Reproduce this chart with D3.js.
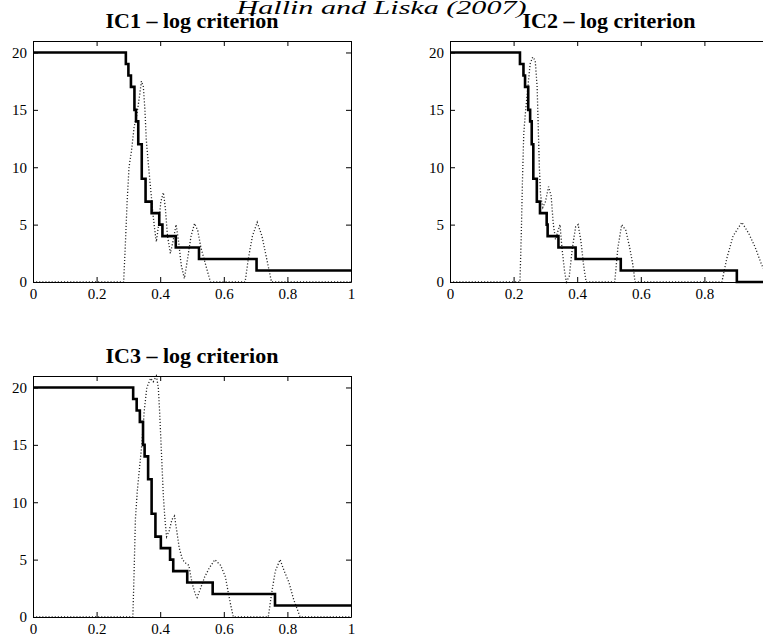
<!DOCTYPE html>
<html>
<head>
<meta charset="utf-8">
<script src="https://cdn.jsdelivr.net/npm/d3@7"></script>
<style>
  body { margin: 0; background: #fff; }
  svg { display: block; }
</style>
</head>
<body>
<div id="chart"></div>
<script>
// Tick values shared by all panels
const xTicks = [0, 0.2, 0.4, 0.6, 0.8, 1];
const yTicks = [0, 5, 10, 15, 20];

const mainTitle = "Hallin and Liska (2007)";
const panelTitles = ["IC1 \u2013 log criterion", "IC2 \u2013 log criterion", "IC3 \u2013 log criterion"];

// Selected number of factors (solid step line), [c, k]
const ic1Steps = [[0, 20], [0.292, 19], [0.300, 18], [0.308, 17], [0.319, 15], [0.324, 14], [0.331, 12],
  [0.342, 9], [0.354, 7], [0.373, 6], [0.397, 5], [0.407, 4], [0.449, 3], [0.522, 2], [0.703, 1], [1, 1]];
const ic2Steps = [[0, 20], [0.220, 19], [0.231, 18], [0.236, 17], [0.246, 15], [0.252, 14], [0.257, 12],
  [0.262, 9], [0.273, 7], [0.283, 6], [0.304, 5], [0.307, 4], [0.341, 3], [0.395, 2], [0.537, 1], [0.902, 0], [1, 0]];
const ic3Steps = [[0, 20], [0.315, 19], [0.326, 18], [0.336, 17], [0.346, 15], [0.351, 14], [0.362, 12],
  [0.373, 9], [0.385, 7], [0.402, 6], [0.431, 5], [0.441, 4], [0.485, 3], [0.565, 2], [0.761, 1], [1, 1]];

// Variability curve (dotted line), [c, S]
const ic1Dots = [[0, 0], [0.285, 0], [0.29, 3], [0.296, 7], [0.302, 10], [0.31, 11.5], [0.318, 13.5], [0.326, 14.5],
  [0.334, 16], [0.341, 17.5], [0.347, 17], [0.352, 15], [0.356, 12.5], [0.362, 10.5], [0.367, 9], [0.372, 7.5],
  [0.377, 6], [0.383, 4.5], [0.388, 3.5], [0.395, 5], [0.402, 7], [0.41, 7.8], [0.416, 6.5], [0.423, 4],
  [0.432, 2.5], [0.44, 3.5], [0.45, 5], [0.458, 3.5], [0.466, 1.5], [0.476, 0.3], [0.486, 2], [0.497, 4],
  [0.508, 5.1], [0.518, 4.5], [0.528, 3], [0.543, 1.5], [0.558, 0], [0.667, 0], [0.677, 2], [0.69, 4],
  [0.705, 5.2], [0.72, 4], [0.735, 2], [0.75, 0], [1, 0]];
const ic2Dots = [[0, 0], [0.22, 0], [0.224, 4], [0.228, 9], [0.232, 13], [0.238, 15], [0.245, 17], [0.252, 19],
  [0.26, 19.6], [0.268, 19.3], [0.274, 17], [0.278, 13], [0.281, 10], [0.285, 7.5], [0.292, 6.5], [0.3, 7],
  [0.31, 8.3], [0.318, 7.5], [0.325, 5], [0.332, 3.7], [0.34, 4.5], [0.346, 5], [0.352, 3], [0.36, 1],
  [0.366, 0], [0.375, 0.5], [0.385, 3], [0.395, 4.8], [0.403, 5], [0.412, 3.5], [0.42, 1.5], [0.428, 0],
  [0.518, 0], [0.528, 3], [0.54, 5], [0.553, 4.5], [0.565, 3], [0.575, 1.5], [0.582, 0], [0.855, 0],
  [0.87, 2], [0.89, 4], [0.918, 5.2], [0.94, 4.2], [0.96, 3], [0.98, 1.5], [1, 0.3]];
const ic3Dots = [[0, 0], [0.314, 0], [0.318, 4], [0.322, 8.5], [0.328, 11], [0.335, 13], [0.342, 15], [0.35, 18],
  [0.358, 20], [0.37, 20.8], [0.378, 20.5], [0.388, 21], [0.394, 20], [0.398, 18], [0.402, 15.5], [0.406, 13],
  [0.41, 10.5], [0.415, 8.5], [0.42, 7], [0.428, 7.5], [0.437, 8.5], [0.445, 8.8], [0.452, 7.5], [0.46, 6],
  [0.47, 5], [0.48, 4.7], [0.49, 4.5], [0.5, 3], [0.51, 2], [0.516, 1.7], [0.527, 2.5], [0.54, 3.5],
  [0.555, 4.3], [0.572, 5], [0.59, 4.5], [0.605, 3.5], [0.615, 2], [0.622, 1], [0.63, 0], [0.74, 0],
  [0.75, 2], [0.762, 4], [0.777, 5], [0.79, 4], [0.805, 3], [0.82, 1.5], [0.84, 0], [1, 0]];

const W = 763, H = 639;
const panelW = 318, panelH = 241;
const serif = "'Liberation Serif', 'Times New Roman', serif";

const panels = [
  { title: panelTitles[0], left: 33, top: 41, steps: ic1Steps, dots: ic1Dots },
  { title: panelTitles[1], left: 450, top: 41, steps: ic2Steps, dots: ic2Dots },
  { title: panelTitles[2], left: 33, top: 376, steps: ic3Steps, dots: ic3Dots }
];

const svg = d3.select("#chart")
  .append("svg")
  .attr("width", W)
  .attr("height", H);

svg.append("rect")
  .attr("width", W)
  .attr("height", H)
  .attr("fill", "#fff");

panels.forEach(p => {
  const x = d3.scaleLinear().domain([0, 1]).range([p.left, p.left + panelW]);
  const y = d3.scaleLinear().domain([0, 21]).range([p.top + panelH, p.top]);

  const g = svg.append("g");

  // dotted curve
  const dotLine = d3.line()
    .x(d => x(d[0]))
    .y(d => y(d[1]));

  g.append("path")
    .datum(p.dots)
    .attr("fill", "none")
    .attr("stroke", "#222")
    .attr("stroke-width", 1.3)
    .attr("stroke-dasharray", "1.1 2")
    .attr("d", dotLine);

  // step line
  const stepLine = d3.line()
    .x(d => x(d[0]))
    .y(d => y(d[1]))
    .curve(d3.curveStepAfter);

  g.append("path")
    .datum(p.steps)
    .attr("fill", "none")
    .attr("stroke", "#000")
    .attr("stroke-width", 2.6)
    .attr("d", stepLine);

  // axes (box with inward ticks)
  const fmt = d => String(d);

  const bottom = g.append("g")
    .attr("transform", `translate(0,${p.top + panelH})`)
    .call(d3.axisBottom(x).tickValues(xTicks).tickFormat(fmt).tickSizeInner(-5).tickSizeOuter(0).tickPadding(6));

  g.append("g")
    .attr("transform", `translate(0,${p.top})`)
    .call(d3.axisTop(x).tickValues(xTicks).tickFormat("").tickSizeInner(-5).tickSizeOuter(0));

  const left = g.append("g")
    .attr("transform", `translate(${p.left},0)`)
    .call(d3.axisLeft(y).tickValues(yTicks).tickFormat(fmt).tickSizeInner(-5).tickSizeOuter(0).tickPadding(6));

  g.append("g")
    .attr("transform", `translate(${p.left + panelW},0)`)
    .call(d3.axisRight(y).tickValues(yTicks).tickFormat("").tickSizeInner(-5).tickSizeOuter(0));

  g.selectAll(".domain, .tick line")
    .attr("stroke", "#000")
    .attr("stroke-width", 1);

  [bottom, left].forEach(a => a.selectAll("text")
    .attr("fill", "#000")
    .attr("font-family", serif)
    .style("font-family", serif)
    .style("font-size", "15px"));

  // panel title
  g.append("text")
    .attr("x", p.left + panelW / 2)
    .attr("y", p.top - 13)
    .attr("text-anchor", "middle")
    .style("font-family", serif)
    .style("font-weight", "bold")
    .style("font-size", "22px")
    .text(p.title);
});

// overall heading, overlapping the panel titles as in the original
svg.append("text")
  .attr("x", W / 2)
  .attr("y", 14)
  .attr("text-anchor", "middle")
  .attr("textLength", 290)
  .attr("lengthAdjust", "spacingAndGlyphs")
  .style("font-family", serif)
  .style("font-style", "italic")
  .style("font-size", "19px")
  .text(mainTitle);
</script>
</body>
</html>
